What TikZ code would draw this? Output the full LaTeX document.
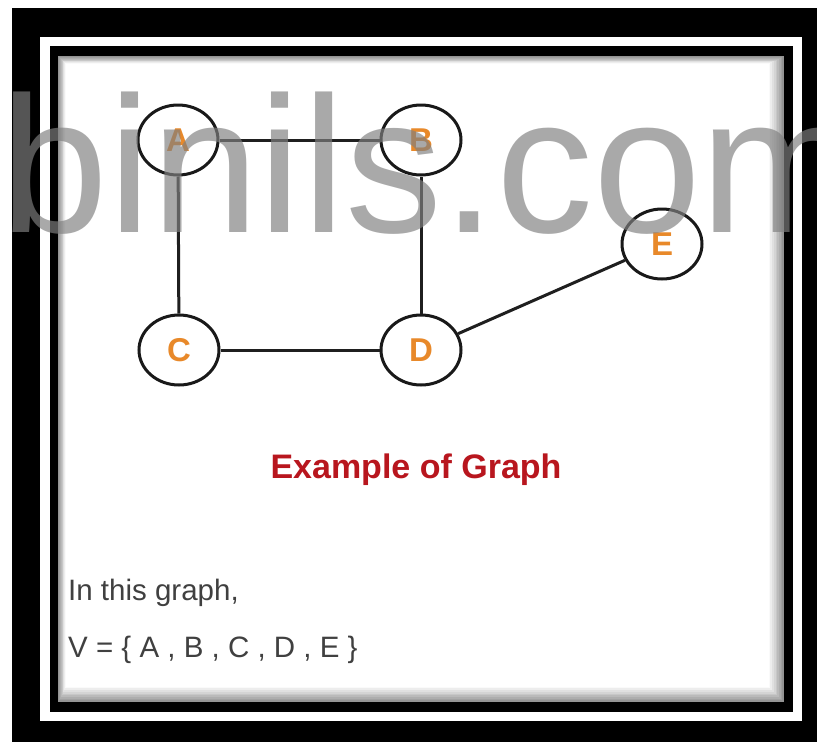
\documentclass[tikz,border=0pt]{standalone}
\usepackage{fontspec}
\setmainfont{Liberation Sans}
\usetikzlibrary{shapes.geometric}
\definecolor{nodeorange}{HTML}{E8892A}
\definecolor{titlered}{HTML}{B8161E}
\definecolor{bodygray}{HTML}{404040}
\tikzset{
  vertex/.style={ellipse, draw=black!90, line width=3pt, fill=white,
    minimum width=80pt, minimum height=70pt, inner sep=0pt,
    text=nodeorange, font=\fontsize{33}{33}\selectfont\bfseries},
  edge/.style={draw=black!88, line width=3pt},
  bodytext/.style={anchor=base west, inner sep=0pt, text=bodygray,
    font=\fontsize{29.5}{29.5}\selectfont},
}
\begin{document}
\begin{tikzpicture}[x=1pt,y=-1pt]
\useasboundingbox (0,0) rectangle (817,742);
% frames
\fill[white] (0,0) rectangle (817,742);
\fill[black] (12,8) rectangle (817,742);
\fill[white] (40,37) rectangle (802,721);
\fill[black] (50,46) rectangle (793,712);
% content with soft inner shadow
\foreach \i in {0,...,9}{
  \pgfmathsetmacro{\pct}{max(0,42-\i*5)}
  \fill[black!\pct!white] ({58+\i*0.9},{56+\i*0.9}) rectangle ({784-\i*1.7},{702-\i*1.7});
}
% graph
\node[vertex] (A) at (178,140) {A};
\node[vertex] (B) at (421,140) {B};
\node[vertex] (C) at (179,350) {C};
\node[vertex] (D) at (421,350) {D};
\node[vertex] (E) at (662,244) {E};
\draw[edge] (A) -- (B);
\draw[edge] (A) -- (C);
\draw[edge] (B) -- (D);
\draw[edge] (C) -- (D);
\draw[edge] (D) -- (E);
% texts
\node[anchor=base, inner sep=0pt, text=titlered,
  font=\fontsize{34}{34}\selectfont\bfseries] (title) at (416,478) {Example of Graph};
\node[bodytext] (l1) at (68,600) {In this graph,};
\node[bodytext] (l2) at (68,657) {V = \{ A , B , C , D , E \}};
% watermark
\node[anchor=base west, inner sep=0pt, text=black!50, text opacity=0.67,
  font=\fontsize{194}{194}\selectfont] (wm) at (0,232) {binils.com};
\end{tikzpicture}
\end{document}
